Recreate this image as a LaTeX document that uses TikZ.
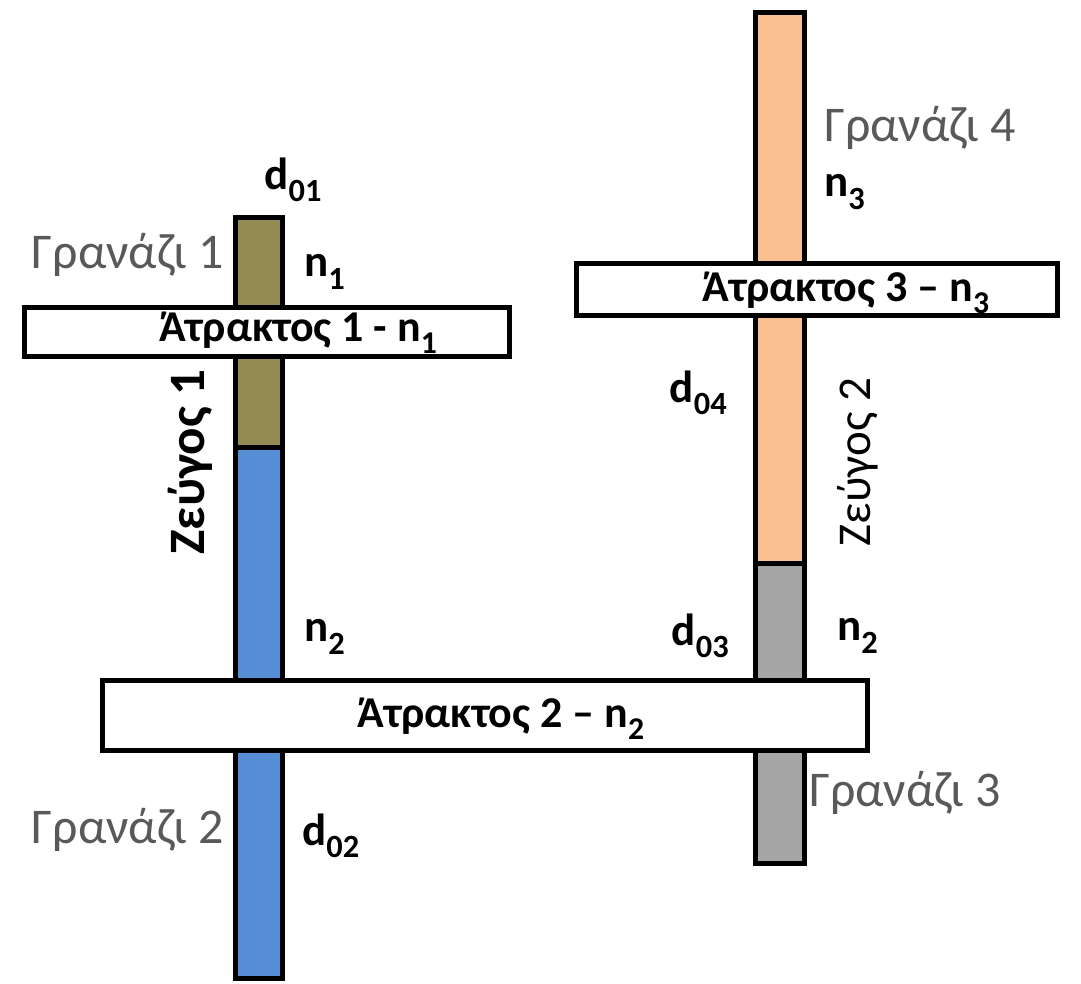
\documentclass[tikz,border=0pt]{standalone}
\usepackage{fontspec}
\setmainfont{Carlito}
\definecolor{olive}{HTML}{948A54}
\definecolor{gblue}{HTML}{558ED5}
\definecolor{gorange}{HTML}{FAC090}
\definecolor{ggray}{HTML}{A6A6A6}
\definecolor{labgray}{HTML}{595959}
\newcommand\subx[1]{\raisebox{-0.28em}{\scalebox{0.72}{#1}}}
\begin{document}
\begin{tikzpicture}[x=1pt,y=-1pt,
  bar/.style={draw=black,line width=5pt,line join=miter},
  shaft/.style={draw=black,fill=white,line width=5pt},
  glabel/.style={inner sep=0pt,text=labgray,font=\fontsize{50}{56}\selectfont},
  blabel/.style={inner sep=0pt,text=black,font=\fontsize{45}{50}\selectfont\bfseries},
  slabel/.style={inner sep=0pt,text=black,font=\fontsize{44}{48}\selectfont\bfseries}]
\useasboundingbox (0,0) rectangle (1081,984);
% left gear bar
\path[bar,fill=gblue] (235.5,447) rectangle (282.5,978);
\path[bar,fill=olive] (235.5,217.5) rectangle (282.5,447);
% right gear bar
\path[bar,fill=ggray] (755.5,563) rectangle (804.5,863);
\path[bar,fill=gorange] (755.5,12.5) rectangle (804.5,563);
% shafts
\path[shaft] (24.5,307.5) rectangle (509.5,356);
\path[shaft] (102.5,680.5) rectangle (867.5,750);
\path[shaft] (576.5,263.5) rectangle (1057.5,315);
\node[slabel] (s1) at (298,333) {Άτρακτος 1 - n\subx{1}};
\node[slabel] (s2) at (501,719) {Άτρακτος 2 – n\subx{2}};
\node[slabel] (s3) at (846,293) {Άτρακτος 3 – n\subx{3}};
% labels left
\node[blabel] (d01) at (293,180) {d\subx{01}};
\node[glabel,anchor=east] (g1) at (224,255) {Γρανάζι 1};
\node[blabel,anchor=west] (n1) at (304,272) {n\subx{1}};
\node[blabel,rotate=90,font=\fontsize{51}{55}\selectfont\bfseries] (z1) at (190,462) {Ζεύγος 1};
\node[blabel,anchor=west] (n2a) at (304,637) {n\subx{2}};
\node[glabel,anchor=east] (g2) at (224,830) {Γρανάζι 2};
\node[blabel,anchor=west] (d02) at (302,836) {d\subx{02}};
% labels right
\node[glabel,anchor=west] (g4) at (824,128) {Γρανάζι 4};
\node[blabel,anchor=west] (n3) at (824,192) {n\subx{3}};
\node[blabel,anchor=east] (d04) at (727,393) {d\subx{04}};
\node[rotate=90,inner sep=0pt,font=\fontsize{47}{50}\selectfont] (z2) at (858,462) {Ζεύγος 2};
\node[blabel,anchor=east] (d03) at (729,636) {d\subx{03}};
\node[blabel,anchor=west] (n2b) at (837,636) {n\subx{2}};
\node[glabel,anchor=west] (g3) at (809,793) {Γρανάζι 3};
\end{tikzpicture}
\end{document}
